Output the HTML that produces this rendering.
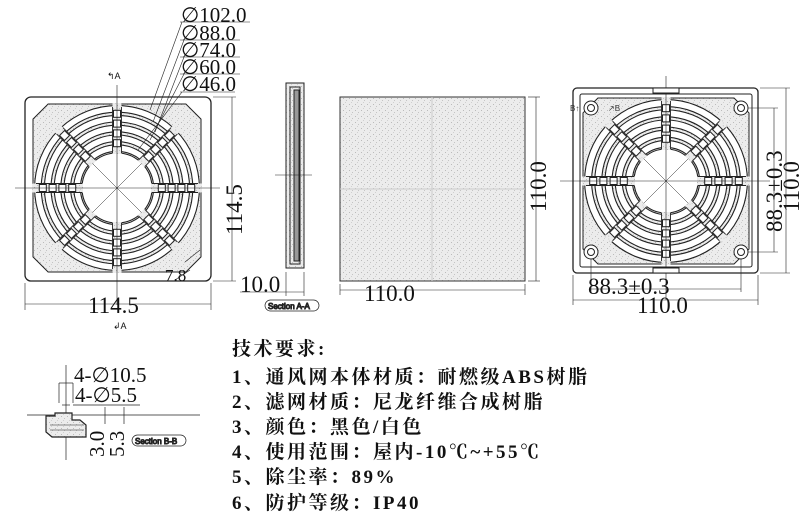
<!DOCTYPE html>
<html><head><meta charset="utf-8">
<style>
body{margin:0;background:#fff;width:808px;height:516px;overflow:hidden;position:relative}
svg{position:absolute;left:0;top:0}
.t{position:absolute;font-family:"Liberation Serif","Noto Serif CJK SC",serif;font-size:19px;font-weight:bold;color:#111;white-space:nowrap;letter-spacing:2.5px;line-height:20px}
</style></head><body>
<svg id="s" width="808" height="516" viewBox="0 0 808 516" font-family="Liberation Serif, serif" fill="none" stroke="#222" stroke-width="1">
<defs>
<pattern id="sp" width="6" height="6" patternUnits="userSpaceOnUse">
<rect width="6" height="6" fill="#ececec" stroke="none"/>
<rect x="1" y="2" width="1" height="1" fill="#bbb" stroke="none"/>
<rect x="4" y="4" width="1" height="1" fill="#c4c4c4" stroke="none"/>
<rect x="3" y="0" width="1" height="1" fill="#d0d0d0" stroke="none"/>
</pattern>
</defs>
<g id="g1"></g>
<g id="g2"></g>
<rect x="25" y="97" width="186" height="184" rx="6" stroke-width="1.3"/>
<line x1="15" y1="188" x2="220" y2="188" stroke-width="0.6"/>
<line x1="117" y1="85" x2="117" y2="305" stroke-width="0.6"/>
<g stroke-width="0.6">
<line x1="180" y1="22" x2="250" y2="22"/><line x1="180" y1="40" x2="240" y2="40"/><line x1="180" y1="57" x2="240" y2="57"/><line x1="180" y1="74" x2="240" y2="74"/><line x1="180" y1="92" x2="235" y2="92"/>
<line x1="182" y1="22" x2="150" y2="110"/><line x1="184" y1="40" x2="153" y2="122"/><line x1="184" y1="57" x2="155" y2="132"/><line x1="184" y1="74" x2="150" y2="140"/><line x1="182" y1="92" x2="138" y2="150"/>
<line x1="213" y1="97" x2="236" y2="97"/><line x1="213" y1="281" x2="236" y2="281"/><line x1="232" y1="97" x2="232" y2="281"/>
<line x1="25" y1="283" x2="25" y2="310"/><line x1="211" y1="283" x2="211" y2="310"/><line x1="25" y1="304" x2="211" y2="304"/>
<line x1="185" y1="262" x2="200" y2="250"/><line x1="190" y1="270" x2="175" y2="280"/>
</g>
<g fill="#111" stroke="none" font-size="23">
<text x="181" y="22" font-size="21">∅102.0</text><text x="181" y="40" font-size="21">∅88.0</text><text x="181" y="57" font-size="21">∅74.0</text><text x="181" y="74" font-size="21">∅60.0</text><text x="181" y="91" font-size="21">∅46.0</text>
<text x="88" y="313">114.5</text>
<text transform="translate(242,235) rotate(-90)">114.5</text>
<text x="165" y="281" font-size="17">7.8</text>
<text x="240" y="292">10.0</text>
<text x="364" y="301">110.0</text>
<text transform="translate(546,212) rotate(-90)">110.0</text>
<text x="588" y="294">88.3±0.3</text>
<text x="637" y="313">110.0</text>
<text transform="translate(782,232) rotate(-90)">88.3±0.3</text>
<text transform="translate(799,212) rotate(-90)">110.0</text>
<text x="74" y="382" font-size="21">4-∅10.5</text><text x="75" y="402" font-size="21">4-∅5.5</text>
<text transform="translate(104,457) rotate(-90)" font-size="21">3.0</text><text transform="translate(124,457) rotate(-90)" font-size="21">5.3</text>
<text x="107" y="79" font-size="9" font-family="Liberation Sans">↰A</text>
<text x="113" y="329" font-size="9" font-family="Liberation Sans">↲A</text>
</g>
<g stroke-width="1">
<rect x="286" y="83" width="18" height="185" fill="url(#sp)"/>
<rect x="290" y="87" width="10" height="177"/>
<rect x="294" y="90" width="5" height="171" fill="#999"/>
<line x1="275" y1="175" x2="312" y2="175" stroke-width="0.6"/>
<line x1="286" y1="272" x2="286" y2="296" stroke-width="0.6"/><line x1="304" y1="272" x2="304" y2="296" stroke-width="0.6"/>
<line x1="240" y1="292" x2="304" y2="292" stroke-width="0.6"/>
<rect x="265" y="300" width="54" height="11" rx="5.5" stroke-width="0.7"/>
</g>
<text x="268" y="309" font-size="8" fill="#333" font-family="Liberation Sans">Section A-A</text>
<rect x="340" y="97" width="185" height="184" fill="url(#sp)" stroke="#333"/>
<line x1="432" y1="97" x2="432" y2="281" stroke="#ccc"/><line x1="340" y1="189" x2="525" y2="189" stroke="#ccc"/>
<g stroke-width="0.6">
<line x1="340" y1="284" x2="340" y2="295"/><line x1="525" y1="284" x2="525" y2="295"/><line x1="340" y1="290" x2="525" y2="290"/>
<line x1="528" y1="97" x2="540" y2="97"/><line x1="528" y1="281" x2="540" y2="281"/><line x1="536" y1="97" x2="536" y2="281"/>
</g>
<rect x="573" y="88" width="185" height="185" rx="4" stroke-width="1.3"/>
<rect x="580" y="94" width="172" height="173" rx="2"/>
<g stroke-width="0.6">
<line x1="560" y1="181" x2="770" y2="181"/><line x1="666" y1="76" x2="666" y2="300"/>
<line x1="591" y1="252" x2="591" y2="292"/><line x1="741" y1="252" x2="741" y2="292"/><line x1="591" y1="289" x2="741" y2="289"/>
<line x1="573" y1="275" x2="573" y2="305"/><line x1="758" y1="275" x2="758" y2="305"/><line x1="573" y1="300" x2="758" y2="300"/>
<line x1="741" y1="108" x2="778" y2="108"/><line x1="741" y1="252" x2="778" y2="252"/><line x1="774" y1="108" x2="774" y2="252"/>
<line x1="760" y1="88" x2="790" y2="88"/><line x1="760" y1="273" x2="790" y2="273"/><line x1="786" y1="88" x2="786" y2="273"/>
</g>
<g id="holes"></g>
<text x="570" y="111" font-size="8" fill="#333" font-family="Liberation Sans" stroke="none">B↑</text>
<text x="608" y="111" font-size="8" fill="#333" font-family="Liberation Sans" stroke="none">↗B</text>
<g stroke-width="0.7">
<line x1="27" y1="415" x2="200" y2="415"/>
<line x1="66" y1="365" x2="66" y2="460"/>
<line x1="59" y1="383" x2="73" y2="383"/><line x1="59" y1="383" x2="59" y2="403"/><line x1="73" y1="383" x2="73" y2="403"/>
<line x1="62" y1="405" x2="70" y2="405"/><line x1="73" y1="405" x2="140" y2="405"/>
<line x1="105" y1="407" x2="105" y2="424"/><line x1="124" y1="407" x2="124" y2="424"/>
<path d="M46 416 L46 432 L52 437 L86 437 L86 425 L80 420 L72 420 L72 413 L55 413 L55 416 Z" stroke-width="1.2" fill="url(#sp)"/>
<path d="M50 425 L84 425 M50 430 L84 430" stroke-width="0.6"/>
<rect x="132" y="435" width="54" height="11" rx="5.5"/>
</g>
<text x="135" y="444" font-size="8" fill="#333" font-family="Liberation Sans">Section B-B</text>
</svg>
<div class="t" style="left:232px;top:340px">技术要求:</div>
<div class="t" style="left:232px;top:368px">1、通风网本体材质：耐燃级ABS树脂</div>
<div class="t" style="left:232px;top:393px">2、滤网材质：尼龙纤维合成树脂</div>
<div class="t" style="left:232px;top:418px">3、颜色：黑色/白色</div>
<div class="t" style="left:232px;top:443px">4、使用范围：屋内-10℃~+55℃</div>
<div class="t" style="left:232px;top:468px">5、除尘率：89%</div>
<div class="t" style="left:232px;top:494px">6、防护等级：IP40</div>
<script>
var NS="http://www.w3.org/2000/svg";
function el(p,n,a){var e=document.createElementNS(NS,n);for(var k in a)e.setAttribute(k,a[k]);p.appendChild(e);return e;}
function grille(g,cx,cy,R,rin){
  var c=R*0.82;
  el(g,"path",{d:"M"+(cx-c)+" "+(cy-R)+" L"+(cx+c)+" "+(cy-R)+" L"+(cx+R)+" "+(cy-c)+" L"+(cx+R)+" "+(cy+c)+" L"+(cx+c)+" "+(cy+R)+" L"+(cx-c)+" "+(cy+R)+" L"+(cx-R)+" "+(cy+c)+" L"+(cx-R)+" "+(cy-c)+" Z",fill:"url(#sp)","stroke-width":1});
  var step=(R-rin)/5;
  for(var i=4;i>=0;i--){
    var r1=rin+i*step+1.6, r2=rin+(i+1)*step-1.6;
    el(g,"circle",{cx:cx,cy:cy,r:r2,fill:"#fff","stroke-width":1.1});
    el(g,"circle",{cx:cx,cy:cy,r:r1,fill:"url(#sp)","stroke-width":1.1});
  }
  el(g,"circle",{cx:cx,cy:cy,r:rin,fill:"#fff","stroke-width":1.1});
  for(var a=0;a<8;a++){
    var grp=el(g,"g",{transform:"rotate("+(a*45)+" "+cx+" "+cy+")"});
    el(grp,"rect",{x:cx+rin-1,y:cy-4.5,width:R-rin+2,height:9,fill:"url(#sp)",stroke:"none"});
    el(grp,"line",{x1:cx+rin,y1:cy-4.5,x2:cx+R-3,y2:cy-4.5,"stroke-width":0.9});
    el(grp,"line",{x1:cx+rin,y1:cy+4.5,x2:cx+R-3,y2:cy+4.5,"stroke-width":0.9});
    for(var i=0;i<4;i++){
      var rr=rin+(i+1)*step;
      el(grp,"rect",{x:cx+rr-3.5,y:cy-3.5,width:7,height:7,fill:"#fff","stroke-width":1});
    }
  }
  el(g,"line",{x1:cx-rin*0.7,y1:cy-rin*0.7,x2:cx+rin*0.7,y2:cy+rin*0.7,"stroke-width":0.5});
  el(g,"line",{x1:cx+rin*0.7,y1:cy-rin*0.7,x2:cx-rin*0.7,y2:cy+rin*0.7,"stroke-width":0.5});
}
grille(document.getElementById("g1"),117,188,84,35);
grille(document.getElementById("g2"),666,181,83,32);
var h=document.getElementById("holes");
[[591,108],[741,108],[591,252],[741,252]].forEach(function(p){
  el(h,"circle",{cx:p[0],cy:p[1],r:7,fill:"#fff"});
  el(h,"circle",{cx:p[0],cy:p[1],r:3.5});
});
el(h,"rect",{x:653,y:88,width:26,height:5,fill:"#fff"});
el(h,"rect",{x:653,y:268,width:26,height:5,fill:"#fff"});
</script>
</body></html>
